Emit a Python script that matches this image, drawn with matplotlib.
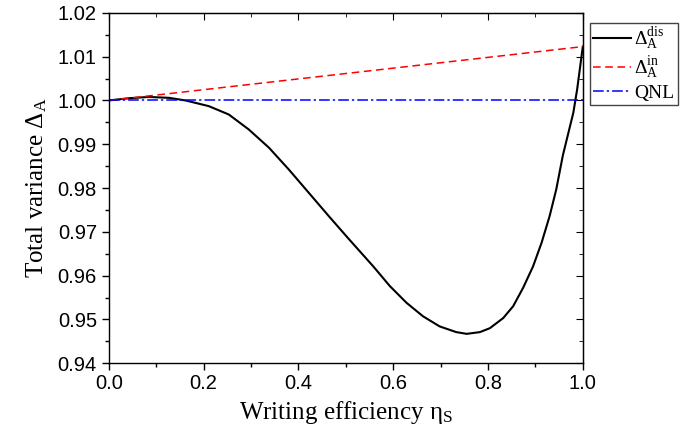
import matplotlib.pyplot as plt
from matplotlib.ticker import MultipleLocator

# values
eta_dis = [0.0, 0.042, 0.084, 0.127, 0.162, 0.211, 0.253, 0.295, 0.338, 0.380,
           0.422, 0.464, 0.506, 0.558, 0.593, 0.628, 0.663, 0.698,
           0.733, 0.755, 0.783, 0.804, 0.832, 0.853, 0.874, 0.895, 0.913, 0.930,
           0.944, 0.958, 0.980, 0.988, 1.0]
delta_dis = [1.0, 1.0005, 1.0008, 1.0006, 1.0, 0.9987, 0.9968, 0.9934, 0.9892,
             0.9842, 0.9789, 0.9736, 0.9684, 0.9621, 0.9576,
             0.9538, 0.9507, 0.9484, 0.9471, 0.9467, 0.9471, 0.9480, 0.9503,
             0.9530, 0.9572, 0.9621, 0.9675, 0.9736, 0.9797, 0.9875, 0.9972,
             1.0025, 1.0123]
eta_in = [0.0, 1.0]
delta_in = [1.0, 1.0123]
eta_qnl = [0.0, 1.0]
qnl = [1.0, 1.0]

plt.rcParams['font.family'] = 'Liberation Sans'
plt.rcParams['mathtext.fontset'] = 'custom'
plt.rcParams['mathtext.rm'] = 'Liberation Serif'
plt.rcParams['mathtext.it'] = 'Liberation Serif:italic'

fig = plt.figure(figsize=(6.93, 4.44), dpi=100)
ax = fig.add_axes([0.157, 0.182, 0.684, 0.789])

ax.plot(eta_dis, delta_dis, color='black', lw=1.5, label=r'$\Delta_{\rm A}^{\rm dis}$')
ax.plot(eta_in, delta_in, color='red', lw=1.1, ls=(0, (5, 3)), label=r'$\Delta_{\rm A}^{\rm in}$')
ax.plot(eta_qnl, qnl, color='blue', lw=1.1, ls=(0, (7, 2, 1.5, 2)), label='QNL')

ax.set_xlim(0, 1.0)
ax.set_ylim(0.94, 1.02)
ax.xaxis.set_major_locator(MultipleLocator(0.2))
ax.xaxis.set_minor_locator(MultipleLocator(0.1))
ax.yaxis.set_major_locator(MultipleLocator(0.01))
ax.yaxis.set_minor_locator(MultipleLocator(0.005))
ax.xaxis.set_major_formatter(plt.FormatStrFormatter('%.1f'))
ax.yaxis.set_major_formatter(plt.FormatStrFormatter('%.2f'))

ax.tick_params(which='both', direction='out', labelsize=14.5, width=1)
ax.tick_params(which='major', length=5)
ax.tick_params(which='minor', length=3)
ax.tick_params(axis='x', pad=3)
for spine in ax.spines.values():
    spine.set_linewidth(1)

# inward ticks on top and right
sec_x = ax.secondary_xaxis('top')
sec_x.xaxis.set_major_locator(MultipleLocator(0.2))
sec_x.xaxis.set_minor_locator(MultipleLocator(0.1))
sec_x.tick_params(which='both', direction='in', labeltop=False)
sec_x.tick_params(which='major', length=5)
sec_x.tick_params(which='minor', length=3)
sec_y = ax.secondary_yaxis('right')
sec_y.yaxis.set_major_locator(MultipleLocator(0.01))
sec_y.yaxis.set_minor_locator(MultipleLocator(0.005))
sec_y.tick_params(which='both', direction='in', labelright=False)
sec_y.tick_params(which='major', length=5)
sec_y.tick_params(which='minor', length=3)

ax.set_xlabel('Writing efficiency η$_{\\rm S}$', family='Liberation Serif', fontsize=18, labelpad=4)
ax.set_ylabel('Total variance $\\Delta_{\\rm A}$', family='Liberation Serif', fontsize=18, labelpad=6)

leg = fig.legend(loc='upper left', bbox_to_anchor=(0.851, 0.949), fancybox=False,
                 edgecolor='#444444', framealpha=1, borderaxespad=0, borderpad=0.15,
                 handlelength=1.95, handletextpad=0.2, labelspacing=0.15,
                 prop={'family': 'Liberation Serif', 'size': 14})
leg.get_frame().set_linewidth(1)

fig.savefig('out.png', dpi=100)
